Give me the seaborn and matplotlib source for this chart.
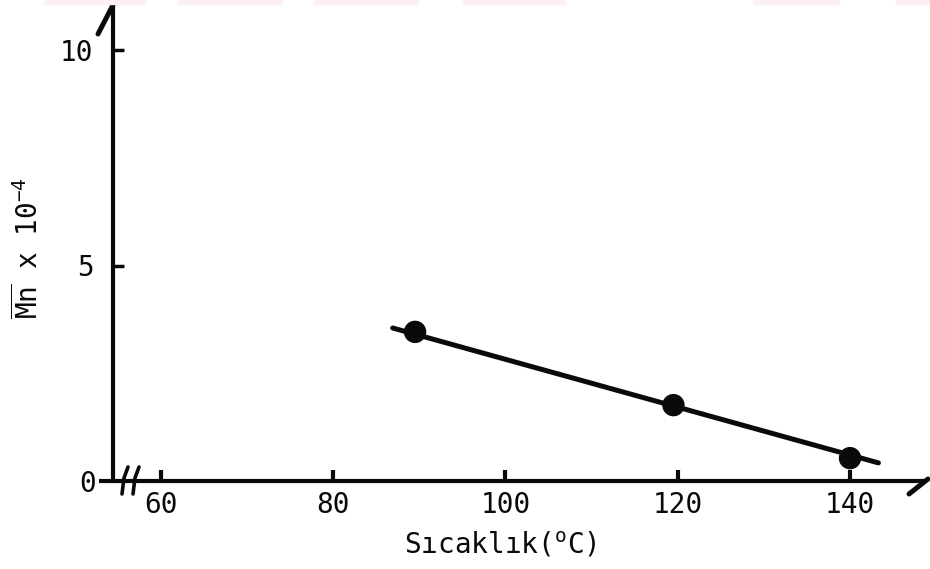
import matplotlib
matplotlib.use("Agg")
import matplotlib.pyplot as plt
import seaborn as sns
import pandas as pd
from matplotlib.patches import Rectangle

# Measured number-average molecular weight vs. polymerisation temperature
temperature = [89.5, 119.5, 140.0]
mn_scaled = [3.46, 1.76, 0.53]

# End points of the straight line drawn through the measurements
fit_temperature = [86.9, 143.3]
fit_mn = [3.55, 0.42]

x_ticks = [60, 80, 100, 120, 140]
x_tick_labels = ["60", "80", "100", "120", "140"]
y_ticks = [5, 10]
y_tick_labels = ["5", "10"]

x_label = "Sıcaklık($^{\\mathrm{o}}$C)"
y_label = "$\\overline{\\mathrm{Mn}}$ x 10$^{-4}$"

points = pd.DataFrame({"T": temperature, "Mn": mn_scaled})
fit = pd.DataFrame({"T": fit_temperature, "Mn": fit_mn})

sns.set_theme(style="white")
plt.rcParams["font.family"] = ["DejaVu Sans Mono", "DejaVu Sans"]
plt.rcParams["mathtext.fontset"] = "custom"
plt.rcParams["mathtext.rm"] = "DejaVu Sans Mono"
plt.rcParams["mathtext.it"] = "DejaVu Sans Mono"
plt.rcParams["mathtext.bf"] = "DejaVu Sans Mono:bold"

W, H = 930, 569
fig = plt.figure(figsize=(W / 100, H / 100), dpi=100)
fig.patch.set_facecolor("white")

# plot box in pixels: left 113, right 925, top 5, bottom 481
L, R, T, B = 113, 925, 5, 481
ax = fig.add_axes([L / W, (H - B) / H, (R - L) / W, (B - T) / H])
ax.set_facecolor("white")

px_per_deg = (850 - 161) / 80.0
x0 = 60 - (161 - L) / px_per_deg
x1 = 60 + (R - 161) / px_per_deg
px_per_unit = 43.1
ax.set_xlim(x0, x1)
ax.set_ylim(0, (B - T) / px_per_unit)

ink = "#0a0a0a"

sns.lineplot(data=fit, x="T", y="Mn", ax=ax, color=ink, linewidth=3.6,
             solid_capstyle="round", zorder=3)
sns.scatterplot(data=points, x="T", y="Mn", ax=ax, color=ink, s=260,
                edgecolor="none", zorder=4)

# axes lines
for side in ("top", "right"):
    ax.spines[side].set_visible(False)
for side in ("left", "bottom"):
    ax.spines[side].set_linewidth(3.0)
    ax.spines[side].set_color(ink)
    ax.spines[side].set_capstyle("round")

ax.set_xticks(x_ticks, labels=x_tick_labels)
ax.set_yticks(y_ticks, labels=y_tick_labels)
ax.set_yticks([0], labels=["0"], minor=True)
ax.tick_params(axis="x", which="major", bottom=True, direction="in", length=8,
               width=3, color=ink, labelsize=20, pad=7, labelcolor=ink)
ax.tick_params(axis="y", which="major", left=True, direction="in", length=8,
               width=2.5, color=ink, labelsize=20, pad=14, labelcolor=ink)
ax.tick_params(axis="y", which="minor", left=True, direction="out", length=10,
               width=3, color=ink, labelsize=20, pad=2, labelcolor=ink)
ax.set_xlabel("")
ax.set_ylabel("")
ax.grid(False)


def to_axes(px, py):
    return (px - L) / (R - L), (B - py) / (B - T)


def stroke(pts, lw=3.0):
    xs, ys = zip(*[to_axes(px, py) for px, py in pts])
    ax.plot(xs, ys, transform=ax.transAxes, color=ink, lw=lw,
            solid_capstyle="round", clip_on=False, zorder=5)


# half arrow heads on both axes
stroke([(113, 5), (98, 34)], lw=3.6)
stroke([(909, 494), (928, 479)], lw=3.6)
# axis break marks
stroke([(128, 467), (124, 478), (122, 494)], lw=2.6)
stroke([(139, 467), (135, 478), (133, 494)], lw=2.6)

fig.text(500 / W, 1 - 545 / H, x_label, ha="center", va="center",
         fontsize=20, color=ink)
fig.text(28 / W, 1 - 248 / H, y_label, ha="center", va="center",
         rotation=90, fontsize=20, color=ink)

# faint pink band along the top edge
for a, b in [(44, 145), (178, 282), (314, 418), (463, 565), (753, 839), (896, 930)]:
    fig.patches.append(Rectangle((a / W, 1 - 4 / H), (b - a) / W, 4 / H,
                                 transform=fig.transFigure,
                                 color="#fdf0f2", zorder=0))

fig.savefig("out.png", dpi=100, facecolor="white")
